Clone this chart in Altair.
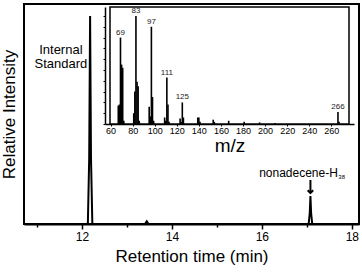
import altair as alt
import pandas as pd

# ---- main chromatogram ----
rt = [10.71, 12.13, 12.16, 12.18, 12.20, 12.23, 13.40, 13.44, 13.48,
      17.04, 17.065, 17.08, 17.095, 17.12, 18.16]
intensity = [0, 0, 0.30, 0.945, 0.30, 0, 0, 0.012, 0,
             0, 0.05, 0.127, 0.05, 0, 0]
rt_domain = [10.71, 18.16]
rt_ticks = [11, 12, 13, 14, 15, 16, 17, 18]

ann_text = ["Internal", "Standard"]
ann_rt = [11.53, 11.53]
ann_int = [0.79, 0.727]

nona_rt = [17.69]
nona_int = [0.232]
arrow_rt = [17.08]
arrow_top = [0.20]
arrow_tip = [0.141]

# ---- inset mass spectrum ----
mz = [67, 68, 69, 70, 71, 72,
      81, 82, 83, 84, 85, 86,
      95, 96, 97, 98, 99,
      109, 110, 111, 112, 113,
      123, 124, 125, 126,
      139, 140, 141, 153, 154, 167, 181, 195, 209, 266, 267]
abund = [17, 18, 80, 55, 52, 3,
         10, 30, 100, 39, 35, 3,
         16, 7, 90, 25, 3,
         6, 3, 43, 18, 2,
         5, 2, 20, 6,
         6, 6, 2, 4, 2, 3, 2, 1.5, 1, 11, 2]
label_mz = [69, 83, 97, 111, 125, 266]
label_ab = [80, 100, 90, 43, 20, 11]
mz_domain = [59.5, 276]
ab_domain = [0, 108.3]
mz_ticks = [60, 80, 100, 120, 140, 160, 180, 200, 220, 240, 260]

main_df = pd.DataFrame({"rt": rt, "intensity": intensity})
ann_df = pd.DataFrame({"rt": ann_rt, "intensity": ann_int, "t": ann_text})
nona_df = pd.DataFrame({"rt": nona_rt, "intensity": nona_int})
arrow_df = pd.DataFrame({"rt": arrow_rt, "intensity": arrow_tip, "top": arrow_top})

x_main = alt.X("rt:Q", title="Retention time (min)",
               scale=alt.Scale(domain=rt_domain, nice=False, zero=False),
               axis=alt.Axis(orient="bottom", values=rt_ticks,
                             labelExpr="datum.value % 2 == 0 ? datum.label : ''",
                             tickSize={"condition": {"test": "datum.value % 2 == 0", "value": 5}, "value": 3},
                             tickWidth=1.5, domainWidth=2, labelFontSize=12,
                             labelPadding=2, titleFontSize=17, titlePadding=6,
                             grid=False))
y_main = alt.Y("intensity:Q", title="Relative Intensity",
               scale=alt.Scale(domain=[0, 1], nice=False, zero=False),
               axis=alt.Axis(orient="left", labels=False, ticks=False, domain=False,
                             grid=False, titleFontSize=17, titlePadding=6))

line = alt.Chart(main_df).mark_line(color="black", strokeWidth=2).encode(x=x_main, y=y_main)
ann = alt.Chart(ann_df).mark_text(fontSize=13, align="center", baseline="middle").encode(
    x=x_main, y=y_main, text="t:N")
nona = alt.Chart(nona_df).mark_text(fontSize=12, align="right", baseline="middle",
                                    text="nonadecene-H").encode(x=x_main, y=y_main)
nona_sub = alt.Chart(nona_df).mark_text(fontSize=6, align="left", baseline="middle",
                                        dx=0.5, dy=4, text="38").encode(x=x_main, y=y_main)
arrow_shaft = alt.Chart(arrow_df).mark_rule(color="black", strokeWidth=2).encode(
    x=x_main, y=y_main, y2="top:Q")
arrow_head = alt.Chart(arrow_df).mark_point(
    shape="M-1,-1L0,0L1,-1", filled=False, color="black", strokeWidth=2, size=30,
    opacity=1).encode(x=x_main, y=y_main)

main = alt.layer(line, ann, nona, nona_sub, arrow_shaft, arrow_head)

spec_df = pd.DataFrame({"mz": mz, "ab": abund})
lab_df = pd.DataFrame({"mz": label_mz, "ab": label_ab})
box_df = pd.DataFrame({"mz": [mz_domain[0]], "mz2": [mz_domain[1]],
                       "ab": [ab_domain[0]], "ab2": [ab_domain[1]]})

x_in = alt.X("mz:Q", title="m/z",
             scale=alt.Scale(domain=mz_domain, range=[81, 330], nice=False, zero=False),
             axis=alt.Axis(orient="bottom", offset=-100, values=mz_ticks,
                           labelFontSize=9, tickSize=2, labelPadding=0,
                           domainWidth=1.5, titleFontSize=19, titlePadding=1,
                           grid=False))
y_in = alt.Y("ab:Q",
             scale=alt.Scale(domain=ab_domain, range=[120, 3], nice=False, zero=False),
             axis=alt.Axis(orient="left", offset=-81, labels=False, tickSize=2,
                           tickCount=10, domainWidth=1.5, title=None, grid=False))

box = alt.Chart(box_df).mark_rect(fill="white", stroke="black", strokeWidth=1.5).encode(
    x=x_in, x2="mz2:Q", y=y_in, y2="ab2:Q")
bars = alt.Chart(spec_df).mark_bar(width=1.6, color="black").encode(x=x_in, y=y_in)
labels = alt.Chart(lab_df).mark_text(fontSize=8, baseline="bottom", dy=-1,
                                     color="#222").encode(x=x_in, y=y_in, text="mz:Q")
inset = alt.layer(box, bars, labels)

chart = alt.layer(main, inset).resolve_scale(x="independent", y="independent").properties(
    width=335, height=220, autosize="none",
    padding={"left": 24, "top": 4, "right": 3, "bottom": 52}
).configure(font="Liberation Sans").configure_view(
    stroke="black", strokeWidth=2
).configure_axis(
    labelColor="black", titleColor="black", domainColor="black", tickColor="black",
    titleFontWeight="normal"
)

chart.save("out.html", embed_options={"renderer": "svg", "actions": False})
